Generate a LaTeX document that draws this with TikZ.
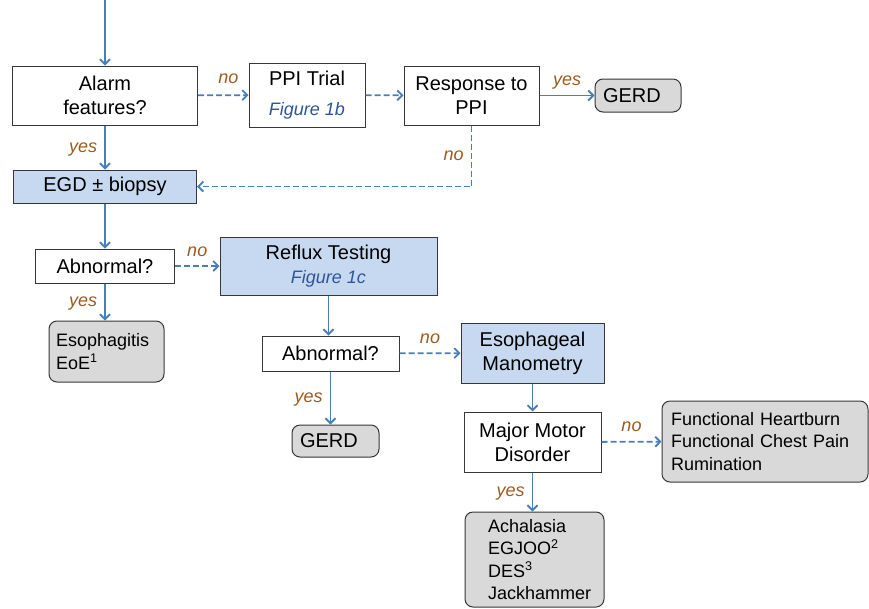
\documentclass[tikz,border=0pt]{standalone}
\usepackage{fontspec}
\setmainfont{Liberation Sans}
\usetikzlibrary{%
	positioning,
	arrows.meta
}
\definecolor{flowblue}{RGB}{74,126,187}
\definecolor{testfill}{RGB}{198,217,241}
\definecolor{outfill}{RGB}{217,217,217}
\definecolor{anscol}{RGB}{156,90,30}
\definecolor{figref}{RGB}{47,85,151}
\definecolor{edgegray}{RGB}{55,55,55}

\begin{document}
\begin{tikzpicture}[x=1pt,y=-1pt,
		font=\fontsize{20}{24}\selectfont,
		SBox/.style={draw=edgegray,line width=1pt,fill=white,align=center,inner sep=0pt},
		STest/.style={SBox,fill=testfill},
		SOutcome/.style={draw=edgegray,line width=1pt,fill=outfill,rounded corners=8pt,align=left,inner ysep=0pt},
		SList/.style={SOutcome,font=\fontsize{18}{22.5}\selectfont},
		flow/.style={draw=flowblue,line width=1.8pt,-{Straight Barb[length=5pt,width=10pt]}},
		flowno/.style={flow,dash pattern=on 6pt off 3pt},
		answer/.style={font=\fontsize{18}{20}\selectfont\itshape,text=anscol,inner sep=3pt,text depth=0pt}
	]
	\useasboundingbox (0,0) rectangle (869,608);

		\coordinate(entry) at (105,0);
		\node(alarm) [SBox, minimum width=185pt, minimum height=59pt] at (105,95.5) {Alarm\\features?};
		\node(ppi) [SBox, minimum width=116pt, minimum height=64pt] at (307,95) {PPI Trial\\[6pt]{\fontsize{18}{20}\selectfont\itshape\color{figref}Figure 1b}};
		\node(resp) [SBox, minimum width=135pt, minimum height=59pt] at (471.5,95.5) {Response to\\PPI};
		\node(gerdA) [SOutcome, text width=70pt, inner xsep=8pt, minimum height=33pt] at (638,95.5) {GERD};

		\node(egd) [STest, minimum width=183pt, minimum height=33pt] at (105,186.5) {EGD ± biopsy};

		\node(abnA) [SBox, minimum width=139pt, minimum height=34pt] at (105,266) {Abnormal?};
		\node(reflux) [STest, minimum width=217pt, minimum height=58pt] at (328.5,266) {Reflux Testing\\{\fontsize{18}{20}\selectfont\itshape\color{figref}Figure 1c}};
		\node(esoph) [SList, text width=101pt, inner xsep=7pt, minimum height=61pt] at (106.5,351.5) {Esophagitis\\EoE\textsuperscript{1}};

		\node(abnB) [SBox, minimum width=137pt, minimum height=35pt] at (330.5,353.5) {Abnormal?};
		\node(mano) [STest, minimum width=143pt, minimum height=60pt] at (532.5,353) {Esophageal\\Manometry};
		\node(gerdB) [SOutcome, text width=71pt, inner xsep=8pt, minimum height=32pt] at (335.5,441) {GERD};

		\node(motor) [SBox, minimum width=137pt, minimum height=60pt] at (532.5,442) {Major Motor\\Disorder};
		\node(func) [SList, text width=188pt, inner xsep=9pt, minimum height=81pt] at (765,441.5) {Functional Heartburn\\Functional Chest Pain\\Rumination};
		\node(achal) [SList, text width=93pt, inner xsep=23pt, minimum height=95pt] at (534.5,559.5) {Achalasia\\EGJOO\textsuperscript{2}\\DES\textsuperscript{3}\\Jackhammer};

		\draw[flow] (entry) -- (alarm);
		\draw[flowno] (alarm) -- node(noA)[answer, above=8pt, pos=0.6] {no} (ppi);
		\draw[flowno] (ppi) -- (resp);
		\draw[flow] (resp) -- node(yesA)[answer, above=6pt] {yes} (gerdA);
		\draw[flowno] (resp.south) |- node(noB)[answer, left=4pt, pos=0.25] {no} (egd.east);
		\draw[flow] (alarm) -- node(yesB)[answer, left=4pt] {yes} (egd);

		\draw[flow] (egd) -- (abnA);
		\draw[flowno] (abnA) -- node(noC)[answer, above=6pt] {no} (reflux);
		\draw[flow] (abnA.south) -- node(yesC)[answer, left=4pt] {yes} (abnA.south |- esoph.north);

		\draw[flow] (reflux.south) -- (reflux.south |- abnB.north);
		\draw[flowno] (abnB) -- node(noD)[answer, above=6pt] {no} (mano);
		\draw[flow] (abnB.south) -- node(yesD)[answer, left=4pt] {yes} (abnB.south |- gerdB.north);

		\draw[flow] (mano) -- (motor);
		\draw[flowno] (motor) -- node(noE)[answer, above=6pt] {no} (func);
		\draw[flow] (motor.south) -- node(yesE)[answer, left=4pt] {yes} (motor.south |- achal.north);

	\end{tikzpicture}
\end{document}
